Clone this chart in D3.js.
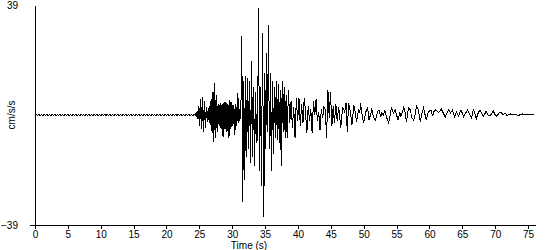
<!DOCTYPE html>
<html>
<head>
<meta charset="utf-8">
<script src="https://cdn.jsdelivr.net/npm/d3@7"></script>
<style>
body { margin: 0; background: #fff; }
svg text { font-family: "Liberation Sans Narrow", "Liberation Sans", sans-serif; font-size: 10px; fill: #000; }
</style>
</head>
<body>
<svg width="550" height="250"></svg>
<script>
// pre-event noise, sampled every 0.2 s from t = 0
var preEventStep = 0.2
var preEventValues = [0,
  0.18,-0.18,0.18,-0.18,0.18,-0.18,0.18,-0.18,0.18,-0.18,
  0.18,-0.18,0.18,-0.18,0.18,-0.18,0.18,-0.18,0.18,-0.18,
  0.18,-0.18,0.18,-0.18,0.18,-0.18,0.18,-0.18,0.18,-0.18,
  0.18,-0.18,0.18,-0.18,0.18,-0.18,0.18,-0.18,0.18,-0.18,
  0.18,-0.18,0.18,-0.18,0.18,-0.18,0.18,-0.18,0.18,-0.18,
  0.18,-0.18,0.18,-0.18,0.18,-0.18,0.18,-0.18,0.18,-0.18,
  0.18,-0.18,0.18,-0.18,0.18,-0.18,0.18,-0.18,0.18,-0.18,
  0.18,-0.18,0.18,-0.18,0.18,-0.18,0.18,-0.18,0.18,-0.18,
  0.18,-0.18,0.18,-0.18,0.18,-0.18,0.18,-0.18,0.18,-0.18,
  0.18,-0.18,0.18,-0.18,0.18,-0.18,0.18,-0.18,0.18,-0.18,
  0.18,-0.18,0.18,-0.18,0.18,-0.18,0.18,-0.18,0.18,-0.18,
  0.18,-0.18,0.18,-0.18,0.18,-0.18,0.18,-0.18,0.18,-0.18,
  0.18, 0]

// [time (s), acceleration (cm/s/s)] turning points
var onset = [[24.55,1],[24.7,-1.5],[24.85,3],[25,-4],[25.15,5.5],[25.3,-5],[25.45,6.4],[25.6,-6],[25.75,5],[25.9,-4.5],
  [26.05,3],[26.2,-2.5],[26.35,2.5],[26.5,-3],[26.65,5],[26.8,-5.5],[26.95,8],[27.1,-9.6],[27.25,11.3],[27.4,-8],
  [27.55,7],[27.7,-6],[27.85,4],[28,-4],[28.15,4.3],[28.3,-5],[28.45,4],[28.6,-7.8],[28.75,4.6],[28.9,-5],
  [29.05,4.5],[29.2,-6],[29.35,4],[29.5,-8.2],[29.65,5.3],[29.8,-5],[29.95,4.5],[30.1,-4],[30.25,3.5],[30.4,-7.1],
  [30.55,4],[30.7,-4],[30.85,7.8],[31,-3],[31.15,2],[31.3,-1.5]]

var strongMotion = [[31.45,28],[31.6,-31],[31.75,12],[31.9,-23],[32.05,14],[32.2,-15],[32.35,13],[32.5,-12],[32.65,12],
  [32.8,-17],[32.95,19],[33.1,-15],[33.25,10],[33.4,-18],[33.55,8],[33.7,-10],[33.85,-8],[34,38],[34.15,-20],
  [34.3,10],[34.45,-25],[34.6,29],[34.8,-36],[34.95,15],[35.1,-12],[35.25,22],[35.4,-6],[35.5,32],[35.65,-12],
  [35.8,15],[35.95,-20],[36.1,12],[36.25,-14],[36.4,10],[36.55,-8],[36.7,12],[36.85,-9],[37,11],[37.15,-10],
  [37.3,9],[37.45,-18],[37.6,12],[37.75,-6],[37.9,10],[38.05,-8],[38.2,7]]

var coda = [[38.35,-8],[38.55,9],[38.75,-3],[38.95,5],[39.15,-4.5],[39.35,3],[39.55,-8],[39.75,6],[39.95,-2],[40.15,6],
  [40.35,-4],[40.55,4],[40.75,-3],[40.95,6],[41.15,1],[41.35,-6.5],[41.55,3],[41.75,-2],[41.95,2],[42.15,-6.5],
  [42.35,5],[42.55,0],[42.75,5.5],[42.95,-2],[43.15,1],[43.35,-5.3],[43.55,2],[43.75,-1],[43.95,3],[44.15,2],
  [44.35,-8],[44.55,9],[44.75,-1],[44.95,8],[45.15,-4],[45.35,3],[45.55,-3],[45.75,4],[45.95,-2]]

var lateCoda = [[46.2,2.8],[46.5,-4.6],[46.8,2.8],[47.1,1.1],[47.3,4.3],[47.5,-6],[47.7,4.3],[48,0.7],[48.2,-3.5],
  [48.5,3.5],[48.7,1],[48.9,-2.5],[49.2,1.8],[49.4,0.7],[49.5,4.3],[49.8,-0.7],[50,-2.8],[50.3,1],[50.6,2.5],
  [50.8,-1.8],[51.1,0.7],[51.2,2.5],[51.5,-1],[51.8,-1.8],[52.1,1],[52.3,1.8],[52.6,-0.7],[52.7,0.7],[53,0],
  [53.2,1.8],[53.5,-1],[53.8,-2.8],[54.1,1],[54.2,2.8],[54.5,0.7],[54.8,1.8],[55.2,-1.8],[55.5,1],[55.6,-0.7],
  [56.1,2.8],[56.3,1],[56.5,-2.5],[56.8,2.5],[57.1,1.8],[57.3,-1],[57.6,-1.8],[57.9,1],[58,3.5],[58.3,1.8],
  [58.6,-2.5],[58.9,1],[59.1,2.5],[59.4,-0.7],[59.5,-1.8],[59.8,1],[60.2,1.8],[60.5,-0.4],[60.6,1],[60.9,1.8]]

var tail = [[61.4,0.9],[61.8,2.1],[62.1,0.7],[62.4,-0.7],[62.9,1.8],[63.2,0.7],[63.5,1.8],[63.8,-0.7],[64.1,1],
  [64.4,-0.4],[64.8,1.8],[65.2,-0.7],[65.5,0.7],[65.8,1.8],[66.1,0.4],[66.4,-1],[66.7,2.1],[67,-0.4],[67.1,-1.4],
  [67.4,0.7],[67.7,1.8],[68,0.4],[68.2,-0.4],[68.5,0.7],[68.6,1.4],[68.9,0],[69.2,-0.4],[69.5,0.7],[69.7,1.4],
  [70,0],[70.2,-0.4],[70.6,0.7],[70.9,1],[71.2,0],[71.5,0.7],[71.8,-0.2],[72.3,0.4],[72.6,0],[73,0.4],[73.5,-0.2],
  [74.1,0.4],[74.5,0],[75,0.2],[75.9,0.2]]

var xTicks = [0,5,10,15,20,25,30,35,40,45,50,55,60,65,70,75]
var yTicks = [-39,39]
var xLabel = "Time (s)"
var yLabel = "cm/s/s"

var svg = d3.select("svg")

var x = d3.scaleLinear().domain([0,76.2]).range([35,536])
var y = d3.scaleLinear().domain([-39,39]).range([225,5])

var preEvent = preEventValues.map((v,i) => [i*preEventStep, v])
var trace = preEvent.concat(onset, strongMotion, coda, lateCoda, tail)

var line = d3.line()
  .x(d => x(d[0]))
  .y(d => y(d[1]))

svg.append("path")
  .datum(trace)
  .attr("d", line)
  .attr("fill", "none")
  .attr("stroke", "#000")
  .attr("stroke-width", 1)
  .style("shape-rendering", "crispEdges")

var xAxis = svg.append("g")
  .attr("transform", "translate(0,225)")
  .call(d3.axisBottom(x).tickValues(xTicks).tickSize(4).tickPadding(2).tickSizeOuter(0).tickFormat(d3.format("d")))

xAxis.select(".domain").attr("d", "M" + (x(0)-5) + ",0.5H" + x.range()[1])

var yAxis = svg.append("g")
  .attr("transform", "translate(35,0)")
  .call(d3.axisLeft(y).tickValues(yTicks).tickSize(0).tickPadding(17))

svg.selectAll(".domain, .tick line").style("shape-rendering", "crispEdges")
svg.selectAll("g").attr("font-family", null).attr("font-size", null)

svg.append("text")
  .attr("x", 249)
  .attr("y", 249)
  .attr("text-anchor", "middle")
  .text(xLabel)

svg.append("text")
  .attr("transform", "translate(15,115) rotate(-90)")
  .attr("text-anchor", "middle")
  .text(yLabel)
</script>
</body>
</html>
